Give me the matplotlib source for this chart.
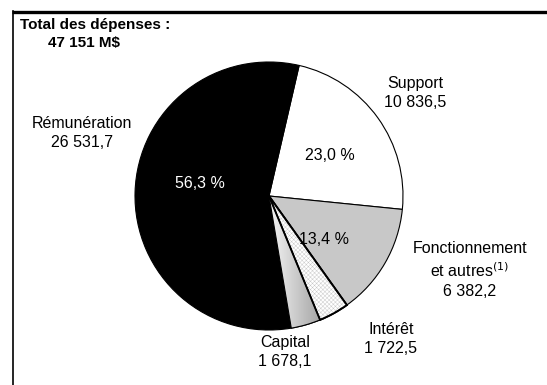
import numpy as np
import matplotlib
matplotlib.use("Agg")
import matplotlib.pyplot as plt
from matplotlib.colors import LinearSegmentedColormap
from matplotlib.patches import PathPatch

plt.rcParams['font.family'] = ['Liberation Sans', 'DejaVu Sans']
plt.rcParams['hatch.linewidth'] = 0.3

# dépenses par catégorie (M$), dans l'ordre horaire à partir du haut
categories = ["Support", "Fonctionnement", "Intérêt", "Capital", "Rémunération"]
montants = [10836.5, 6382.2, 1722.5, 1678.1, 26531.7]
libelles_montants = ["10 836,5", "6 382,2", "1 722,5", "1 678,1", "26 531,7"]
libelles_pct = ["23,0 %", "13,4 %", None, None, "56,3 %"]
total_libelle = "47 151 M$"

W, H = 547, 385
fig = plt.figure(figsize=(W / 100, H / 100), dpi=100)
ax = fig.add_axes([0, 0, 1, 1])

# pixel coords -> data coords (y from top)
def py(y):
    return H - y

cx, cy, r = 269, py(196), 134
couleurs = ["white", "#c8c8c8", "white", "#d4d4d4", "black"]
wedges, _ = ax.pie(montants, colors=couleurs, startangle=77, counterclock=False,
                   center=(cx, cy), radius=r, frame=True,
                   wedgeprops=dict(edgecolor="black", linewidth=0.8))
ax.set_xlim(0, W)
ax.set_ylim(0, H)
ax.set_aspect('equal')
ax.axis('off')

# Intérêt: motif fin gris clair, contour noir épais par-dessus
wi = wedges[2]
wi.set_linewidth(1.3)
ax.add_patch(PathPatch(wi.get_path(), facecolor="none", edgecolor="#c4c4c4",
                       linewidth=0, hatch="xxxxxxxx", zorder=wi.get_zorder() + 0.1))
ax.add_patch(PathPatch(wi.get_path(), facecolor="none", edgecolor="black",
                       linewidth=1.3, zorder=wi.get_zorder() + 0.2))

# Capital: dégradé clair -> gris
wc = wedges[3]
ext = wc.get_path().get_extents()
g = np.linspace(0, 1, 256).reshape(1, -1)
im = ax.imshow(g, cmap=LinearSegmentedColormap.from_list("deg", ["#f6f6f6", "#a4a4a4"]),
               extent=(ext.x0, ext.x1, ext.y0, ext.y1), aspect='auto',
               zorder=wc.get_zorder() + 0.1)
im.set_clip_path(wc)
ax.add_patch(PathPatch(wc.get_path(), facecolor="none", edgecolor="black",
                       linewidth=0.8, zorder=wc.get_zorder() + 0.2))
ax.set_xlim(0, W)
ax.set_ylim(0, H)

# cadre
ax.plot([12, W], [py(11.5), py(11.5)], color="black", linewidth=2.4,
        solid_capstyle='butt', clip_on=False)
ax.plot([12.5, 12.5], [py(10.5), 0], color="black", linewidth=1.2, clip_on=False)

fs = 11.5
fb = 11
ax.text(20, py(25), "Total des dépenses :", fontsize=fb, fontweight='bold', va='center')
ax.text(48, py(43), total_libelle, fontsize=fb, fontweight='bold', va='center')

kw = dict(fontsize=fs, ha='center', va='center', linespacing=1.3)
ax.text(415, py(93), "Support\n" + libelles_montants[0], **kw)
ax.text(82, py(133), "Rémunération\n" + libelles_montants[4], **kw)
ax.text(470, py(270), "Fonctionnement\net autres$^{(1)}$\n" + libelles_montants[1], **kw)
ax.text(391, py(339), "Intérêt\n" + libelles_montants[2], **kw)
ax.text(285, py(352), "Capital\n" + libelles_montants[3], **kw)

ax.text(330, py(156), libelles_pct[0], fontsize=fs, ha='center', va='center')
ax.text(324, py(240), libelles_pct[1], fontsize=fs, ha='center', va='center')
ax.text(200, py(183), libelles_pct[4], fontsize=fs, ha='center', va='center', color="white")

fig.savefig("out.png", dpi=100)
